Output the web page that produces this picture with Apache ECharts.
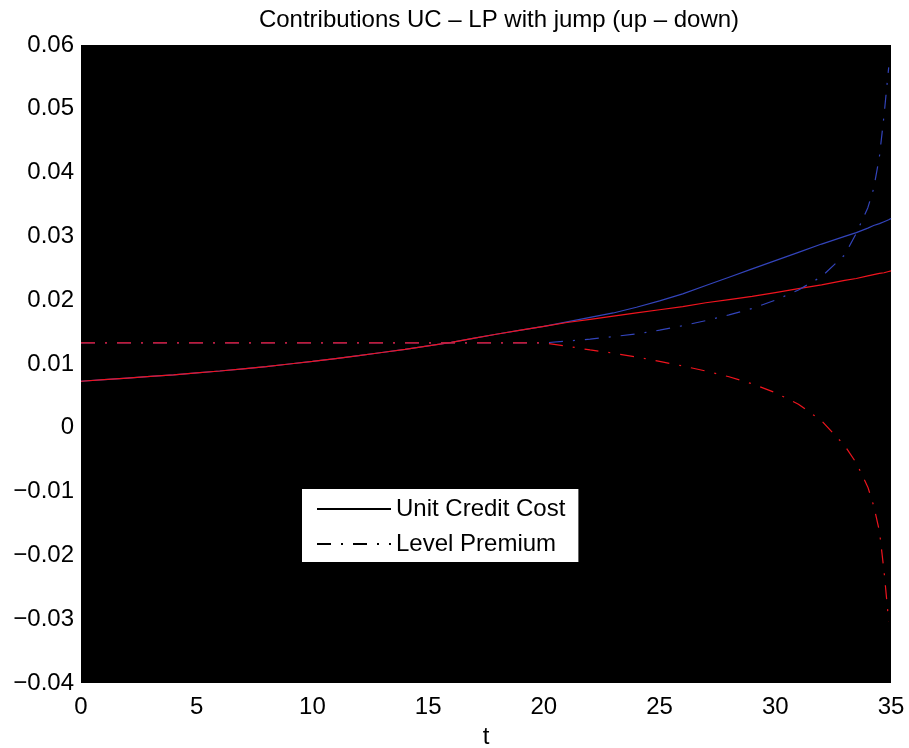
<!DOCTYPE html>
<html>
	<head>
		<meta http-equiv="Content-Type" content="text/html; charset=utf-8" />
		<title>contributions</title>
		<script type="text/javascript" src="https://cdn.jsdelivr.net/npm/echarts@6/dist/echarts.min.js"></script>
		<style>
			html, body { margin: 0; padding: 0; background: #fff; }
		</style>
	</head>
	<body>
		<div id='content' style="width:909px;height:748px;"></div>
	</body>
	<script>
		// time grid (years)
		var tValues = [0, 1, 2, 3, 4, 5, 6, 7, 8, 9, 10, 11, 12, 13, 14, 15, 16, 17, 18, 19, 20,
			21, 22, 23, 24, 25, 26, 27, 28, 29, 30, 31, 32, 33, 33.5, 34, 34.25, 34.5, 34.7, 34.9, 35];

		// unit credit cost, jump up (blue solid)
		var ucUp = [0.0073, 0.00755, 0.0078, 0.00805, 0.0083, 0.0086, 0.0089, 0.00925, 0.0096, 0.0100,
			0.0104, 0.01085, 0.0113, 0.0118, 0.0123, 0.01285, 0.0134, 0.01405, 0.0147, 0.0153, 0.0159,
			0.0166, 0.0173, 0.0180, 0.0189, 0.0199, 0.0210, 0.0223, 0.0236, 0.0249, 0.0262,
			0.0275, 0.0288, 0.0300, 0.0306, 0.0313, 0.0317, 0.0320, 0.0323, 0.0326, 0.0328];

		// unit credit cost, jump down (red solid)
		var ucDown = [0.0073, 0.00755, 0.0078, 0.00805, 0.0083, 0.0086, 0.0089, 0.00925, 0.0096, 0.0100,
			0.0104, 0.01085, 0.0113, 0.0118, 0.0123, 0.01285, 0.0134, 0.01405, 0.0147, 0.0153, 0.0159,
			0.0165, 0.0170, 0.0175, 0.0180, 0.0185, 0.0190, 0.0196, 0.0201, 0.0206, 0.0212,
			0.0218, 0.0224, 0.0231, 0.0234, 0.0238, 0.0240, 0.0242, 0.0243, 0.0245, 0.0246];

		// level premium, jump up (blue dash-dot)
		var lpUp = [0.0133, 0.0133, 0.0133, 0.0133, 0.0133, 0.0133, 0.0133, 0.0133, 0.0133, 0.0133,
			0.0133, 0.0133, 0.0133, 0.0133, 0.0133, 0.0133, 0.0133, 0.0133, 0.0133, 0.0133, 0.0133,
			0.0136, 0.0139, 0.0143, 0.0147, 0.0153, 0.0160, 0.0168, 0.0177, 0.0187, 0.0200,
			0.0216, 0.0237, 0.0271, 0.0305, 0.0345, 0.0375, 0.0425, 0.0490, 0.0565, null];

		// level premium, jump down (red dash-dot)
		var lpDown = [0.0133, 0.0133, 0.0133, 0.0133, 0.0133, 0.0133, 0.0133, 0.0133, 0.0133, 0.0133,
			0.0133, 0.0133, 0.0133, 0.0133, 0.0133, 0.0133, 0.0133, 0.0133, 0.0133, 0.0133, 0.0133,
			0.0128, 0.0122, 0.0117, 0.0111, 0.0104, 0.0097, 0.0089, 0.0080, 0.0069, 0.0055,
			0.0037, 0.0011, -0.0028, -0.0055, -0.0093, -0.0122, -0.0162, -0.0225, -0.0303, null];

		var legendNames = ['Unit Credit Cost', 'Level Premium'];

		var fontFam = '"Liberation Sans", Arial, Helvetica, sans-serif';
		var dashDot = [14, 10, 2, 10];
		var blue = '#3344bb';
		var red = '#f0141e';

		function pairs(ys) {
			var out = [];
			for (var i = 0; i < tValues.length; i++) {
				if (ys[i] === null) continue;
				out.push([tValues[i], ys[i]]);
			}
			return out;
		}

		function lineSeries(name, ys, color, type) {
			return {
				name: name,
				type: 'line',
				data: pairs(ys),
				showSymbol: false,
				symbol: 'none',
				silent: true,
				lineStyle: { color: color, width: 1.2, type: type },
				itemStyle: { color: color }
			};
		}

		var myChart = echarts.init(document.getElementById('content'));

		myChart.setOption({
			backgroundColor: '#fff',
			animation: false,
			textStyle: { fontFamily: fontFam },
			title: {
				text: 'Contributions UC \u2013 LP with jump (up \u2013 down)',
				left: 494,
				textAlign: 'center',
				top: 3,
				textStyle: { fontFamily: fontFam, fontSize: 24, fontWeight: 'normal', color: '#000' }
			},
			grid: {
				left: 81,
				right: 18,
				top: 45,
				bottom: 65,
				outerBoundsMode: 'none',
				show: true,
				backgroundColor: '#000',
				borderWidth: 0
			},
			legend: {
				data: legendNames,
				orient: 'vertical',
				left: 302,
				top: 489,
				backgroundColor: '#fff',
				padding: [6, 13, 4, 14],
				itemGap: 7,
				itemWidth: 74,
				itemHeight: 14,
				selectedMode: false,
				itemStyle: { opacity: 0 },
				textStyle: { fontFamily: fontFam, fontSize: 24, color: '#000', lineHeight: 28 }
			},
			xAxis: {
				type: 'value',
				min: 0,
				max: 35,
				interval: 5,
				name: 't',
				nameLocation: 'middle',
				nameGap: 42,
				nameTextStyle: { fontFamily: fontFam, fontSize: 24, color: '#000' },
				axisLine: { show: false },
				axisTick: { show: false },
				splitLine: { show: false },
				axisLabel: { fontFamily: fontFam, fontSize: 24, color: '#000', margin: 12 }
			},
			yAxis: {
				type: 'value',
				min: -0.04,
				max: 0.06,
				interval: 0.01,
				axisLine: { show: false },
				axisTick: { show: false },
				splitLine: { show: false },
				axisLabel: {
					fontFamily: fontFam,
					fontSize: 24,
					color: '#000',
					margin: 7,
					formatter: function (v) {
						var r = Math.round(v * 100) / 100;
						if (r === 0) return '0';
						var s = Math.abs(r).toFixed(2);
						return (r < 0 ? '\u2212' : '') + s;
					}
				}
			},
			series: [
				lineSeries('ucUp', ucUp, blue, 'solid'),
				lineSeries('ucDown', ucDown, red, 'solid'),
				lineSeries('lpUp', lpUp, blue, dashDot),
				lineSeries('lpDown', lpDown, red, dashDot),
				{
					name: legendNames[0],
					type: 'line',
					data: [],
					symbol: 'none',
					lineStyle: { color: '#000', width: 1, type: 'solid' },
					itemStyle: { color: '#000' }
				},
				{
					name: legendNames[1],
					type: 'line',
					data: [],
					symbol: 'none',
					lineStyle: { color: '#000', width: 1, type: dashDot },
					itemStyle: { color: '#000' }
				}
			]
		});
	</script>
</html>
